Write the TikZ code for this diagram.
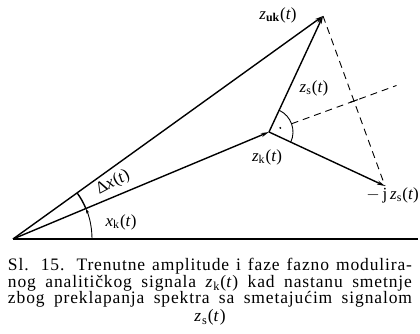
\documentclass[tikz,border=0pt]{standalone}
\usepackage{fontspec}
\setmainfont{Liberation Serif}
\newfontfamily\capfont[LetterSpace=5]{Liberation Serif}
\usetikzlibrary{arrows.meta,calc}
\newcommand{\zz}[1]{\textit{z}\textsubscript{#1}\kern0.5pt(\textit{t})}
\begin{document}
\begin{tikzpicture}[x=1pt,y=1pt,
  vec/.style={line width=1.4pt,-{Stealth[length=8pt,width=4pt]}},
  dsh/.style={line width=0.9pt,dash pattern=on 7pt off 5pt},
  lbl/.style={font=\fontsize{17}{19}\selectfont,inner sep=0pt},
  captxt/.style={font=\capfont\fontsize{17.5}{17}\selectfont,inner sep=0pt,anchor=base}]
\useasboundingbox (0,0) rectangle (420,334);
\coordinate (O) at (13,95);
\coordinate (K) at (269,202);
\coordinate (U) at (323,318);
\coordinate (J) at (385,148);
\coordinate (M) at ($(U)!0.5!(J)$);
\coordinate (E) at ($(K)!1.5!(M)$);
\coordinate (A) at ($(K)!24pt!(M)$);
\coordinate (B) at (418,95);
% baseline
\draw[line width=1.4pt] (O) -- (B);
% vectors
\draw[vec] (O) -- (K);
\draw[vec] (O) -- (U);
\draw[vec] (K) -- (U);
\draw[vec] (K) -- (J);
% dashed
\draw[dsh] (U) -- (J);
\draw[dsh] (A) -- (E);
\draw[line width=1pt] ($(M)!4pt!(K)$) -- ($(M)!-4pt!(K)$);
% right angle arc
\draw[line width=0.9pt] ($(K)+(-25:24)$) arc (-25:65:24);
\fill ($(K)+(20:12)$) circle (1.1pt);
% angle arcs
\draw[line width=0.9pt,-{Stealth[length=5pt,width=3pt]}] ($(O)+(0:79)$) arc (0:22.7:79);
\draw[line width=1.4pt] ($(O)+(22.7:79)$) arc (22.7:35.7:79);
% labels
\node[lbl] (luk) at (278,319) {\textit{z}\textsubscript{\textbf{uk}}\kern0.5pt(\textit{t})};
\node[lbl] (ls) at (314,246) {\zz{s}};
\node[lbl] (lk) at (267,177) {\zz{k}};
\node[lbl,anchor=east] (lj) at (419,139) {$-$\,j\,\zz{s}};
\node[lbl,rotate=28] (ldx) at (113,151) {Δ\textit{x}\kern0.5pt(\textit{t})};
\node[lbl] (lxk) at (121,112) {\textit{x}\textsubscript{k}\kern0.5pt(\textit{t})};
% caption
\node[captxt] (c1) at (210,63) {\makebox[404pt][s]{Sl. 15. Trenutne amplitude i faze fazno modulira-}};
\node[captxt] (c2) at (210,46) {\makebox[404pt][s]{nog analitičkog signala \zz{k} kad nastanu smetnje}};
\node[captxt] (c3) at (210,30) {\makebox[404pt][s]{zbog preklapanja spektra sa smetajućim signalom}};
\node[captxt] (c4) at (210,12) {\zz{s}};
\end{tikzpicture}
\end{document}
